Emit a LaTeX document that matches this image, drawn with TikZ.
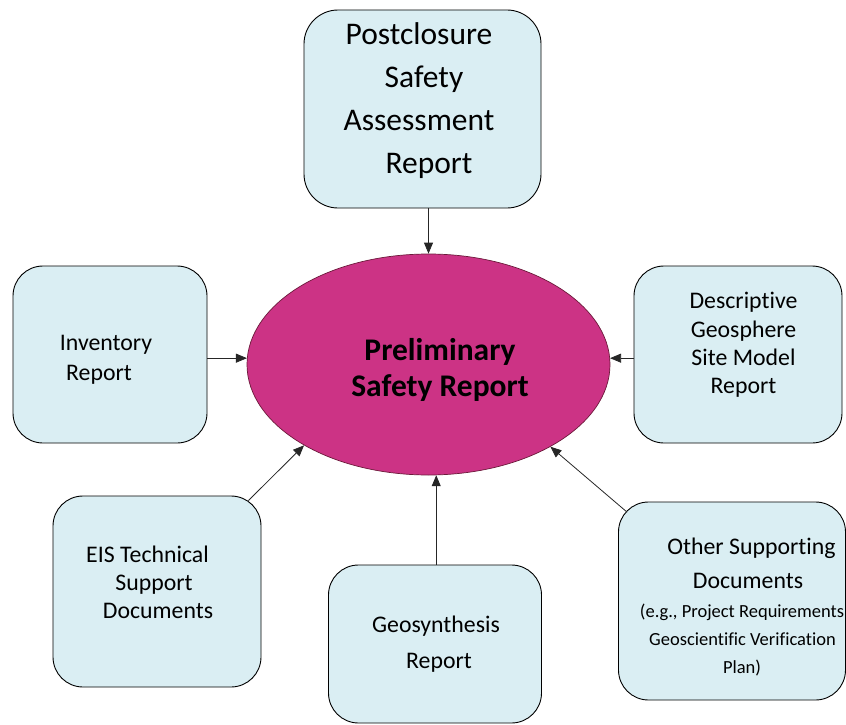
\documentclass[tikz,border=0pt]{standalone}
\usepackage{fontspec}
\setmainfont[Ligatures={NoCommon}]{Carlito}
\usetikzlibrary{shapes.geometric,arrows.meta}

\definecolor{boxfill}{HTML}{DAEEF3}
\definecolor{psrfill}{HTML}{CC3385}
\definecolor{psrline}{HTML}{6B1A3A}

\tikzset{
  docbox/.style={draw=black, line width=0.9pt, fill=boxfill, rounded corners=30pt,
                 inner sep=0pt, anchor=center},
  doctext/.style={align=center, inner sep=0pt, text=black},
  hub/.style={ellipse, draw=psrline, line width=0.7pt, fill=psrfill, inner sep=0pt},
  feed/.style={-{Triangle[length=11pt,width=9pt]}, line width=0.8pt, black!85}
}

\begin{document}
\begin{tikzpicture}[x=1pt,y=1pt]
\useasboundingbox (0,0) rectangle (846,-725);

% central report
\node[hub, minimum width=363pt, minimum height=221pt] (psr) at (428.5,-364.5) {};
\node[doctext, font=\fontsize{31.5}{36}\selectfont\bfseries] (psrt) at (440,-370)
  {Preliminary\\Safety Report};

% contributing documents
\node[docbox, rounded corners=34pt, minimum width=237pt, minimum height=198pt] (post) at (422.5,-109) {};
\node[docbox, minimum width=194pt, minimum height=177pt] (inv) at (110,-354.5) {};
\node[docbox, minimum width=208pt, minimum height=177pt] (desc) at (738,-354.5) {};
\node[docbox, minimum width=208pt, minimum height=191pt] (eis) at (157,-591.5) {};
\node[docbox, minimum width=213pt, minimum height=158pt] (geo) at (435,-644) {};
\node[docbox, minimum width=227pt, minimum height=198pt] (oth) at (732,-601) {};

% box texts
\node[doctext, font=\fontsize{31.5}{43}\selectfont] (postt) at (419,-101)
  {Postclosure\\\hspace*{10pt}Safety\\Assessment\\\hspace*{20pt}Report};
\node[doctext, font=\fontsize{23.8}{30}\selectfont] (invt) at (106,-360)
  {Inventory\\Report\hspace*{14pt}};
\node[doctext, font=\fontsize{23.8}{28.3}\selectfont] (desct) at (743.5,-345)
  {Descriptive\\Geosphere\\Site Model\\Report};
\node[doctext, font=\fontsize{23.8}{28}\selectfont] (eist) at (154,-582)
  {EIS Technical\hspace*{13pt}\\Support\\\hspace*{8pt}Documents};
\node[doctext, font=\fontsize{23.8}{36}\selectfont] (geot) at (436,-644)
  {Geosynthesis\\\hspace*{6pt}Report};
\node[doctext, font=\fontsize{18.5}{28}\selectfont] (otht) at (742,-607)
  {{\fontsize{23.8}{34}\selectfont\hspace*{19pt}Other Supporting}\\[6pt]
   {\fontsize{23.8}{34}\selectfont\hspace*{12pt}Documents}\\[1pt]
   (e.g., Project Requirements\hspace*{8pt}\\
   \hspace*{1pt}Geoscientific Verification\\
   Plan)};

% connectors into the central report
\draw[feed] (post.south -| psr.north) -- (psr.north);
\draw[feed] (inv.east |- psr.178) -- (psr.178);
\draw[feed] (desc.west |- psr.2) -- (psr.2);
\draw[feed, shorten <=-7pt] (eis) -- (psr.213);
\draw[feed] (geo.north -| psr.274) -- (psr.274);
\draw[feed, shorten <=-12pt] (oth) -- (psr.326);
\end{tikzpicture}
\end{document}
